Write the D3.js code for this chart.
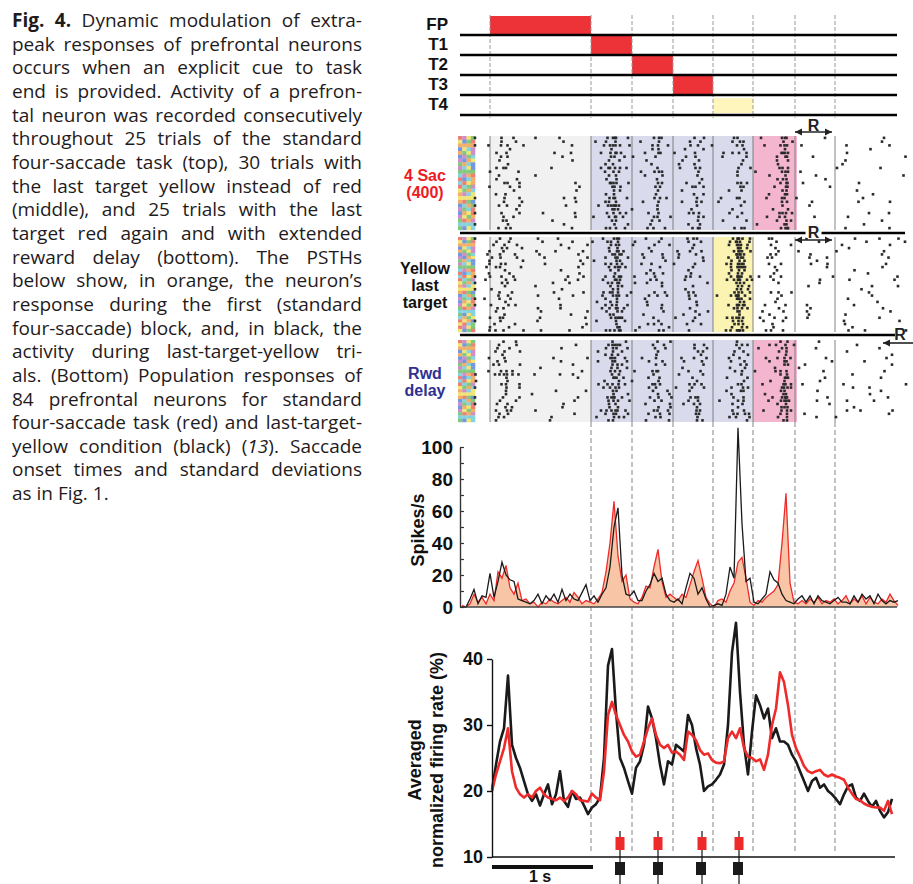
<!doctype html>
<html lang="en">
  <head>
    <meta charset="UTF-8" />
    <title>Fig. 4</title>
    <style>
      body {
        margin: 0;
        background: #fff;
      }
      #caption {
        position: absolute;
        left: 12px;
        top: 9px;
        width: 350px;
        font-family: "Open Sans", sans-serif;
        font-size: 19px;
        line-height: 23.65px;
        color: #1f1b1c;
      }
      #caption div {
        white-space: nowrap;
        text-align: justify;
        text-align-last: justify;
      }
      #caption div.last {
        text-align-last: left;
      }
      #chart {
        position: absolute;
        left: 0;
        top: 0;
      }
      #chart text {
        font-family: "Liberation Sans", Arial, sans-serif;
        font-weight: bold;
      }
    </style>
  </head>
  <body>
    <div id="caption"></div>
    <svg id="chart" width="913" height="884"></svg>
    <script src="https://d3js.org/d3.v7.min.js"></script>
    <script>
      /* global d3 */

      // ---- data ----
      const captionLines = [
        "<b>Fig. 4.</b> Dynamic modulation of extra-",
        "peak responses of prefrontal neurons",
        "occurs when an explicit cue to task",
        "end is provided. Activity of a prefron-",
        "tal neuron was recorded consecutively",
        "throughout 25 trials of the standard",
        "four-saccade task (top), 30 trials with",
        "the last target yellow instead of red",
        "(middle), and 25 trials with the last",
        "target red again and with extended",
        "reward delay (bottom). The PSTHs",
        "below show, in orange, the neuron’s",
        "response during the first (standard",
        "four-saccade) block, and, in black, the",
        "activity during last-target-yellow tri-",
        "als. (Bottom) Population responses of",
        "84 prefrontal neurons for standard",
        "four-saccade task (red) and last-target-",
        "yellow condition (black) (<i>13</i>). Saccade",
        "onset times and standard deviations",
        "as in Fig. 1.",
      ];

      // event times (s from fixation point onset)
      const events = [0, 1.01, 1.42, 1.83, 2.23, 2.63, 3.05, 3.45];
      const taskLabels = ["FP", "T1", "T2", "T3", "T4"];
      const taskOn = [0, 1.01, 1.42, 1.83, 2.23];
      const taskOff = [1.01, 1.42, 1.83, 2.23, 2.63];
      const taskColor = ["red", "red", "red", "red", "yellow"];
      const rewardWin = [3.05, 3.42];

      const blockLabels = [["4 Sac", "(400)"], ["Yellow", "last", "target"], ["Rwd", "delay"]];
      const blockTrials = [25, 30, 25];
      const blockShading = [
        [{ from: 0, to: 1.01, kind: "fix" }, { from: 1.01, to: 2.63, kind: "sac" }, { from: 2.63, to: 3.07, kind: "red" }],
        [{ from: 0, to: 1.01, kind: "fix" }, { from: 1.01, to: 2.23, kind: "sac" }, { from: 2.23, to: 2.63, kind: "yellow" }],
        [{ from: 0, to: 1.01, kind: "fix" }, { from: 1.01, to: 2.63, kind: "sac" }, { from: 2.63, to: 3.07, kind: "red" }],
      ];
      const blockSource = ["red", "black", "red"];

      // single neuron PSTH, 40 ms bins from -0.30 s
      const psthStart = -0.3;
      const psthStep = 0.04;
      const psthRed = [
        1, 0, 2, 8, 3, 6, 2, 8, 4, 22,
        18, 26, 12, 8, 15, 4, 5, 2, 3, 0,
        3, 2, 5, 3, 2, 4, 6, 3, 9, 6,
        2, 4, 3, 2, 5, 9, 22, 40, 66, 32,
        16, 20, 5, 3, 2, 6, 13, 12, 25, 36,
        16, 6, 8, 6, 4, 8, 6, 14, 22, 29,
        18, 6, 2, 0, 4, 5, 3, 10, 15, 28,
        31, 18, 3, 1, 4, 3, 6, 8, 10, 14,
        40, 71, 15, 3, 2, 4, 2, 5, 3, 6,
        2, 4, 3, 5, 2, 4, 7, 2, 5, 3,
        7, 2, 6, 3, 2, 5, 3, 8, 4, 1,
      ];
      const psthBlack = [
        0, 0, 5, 11, 2, 7, 6, 21, 6, 16,
        28, 20, 17, 16, 5, 4, 3, 2, 4, 8,
        2, 7, 4, 8, 3, 11, 4, 8, 5, 4,
        9, 14, 4, 7, 3, 8, 12, 25, 50, 62,
        20, 8, 7, 10, 4, 4, 10, 14, 21, 16,
        18, 8, 4, 3, 5, 2, 12, 21, 18, 8,
        12, 5, 0, 1, 2, 1, 8, 25, 18, 112,
        52, 16, 18, 3, 2, 5, 8, 22, 17, 15,
        8, 4, 3, 2, 5, 7, 3, 7, 2, 7,
        4, 3, 2, 4, 6, 3, 3, 2, 7, 3,
        8, 5, 7, 2, 8, 4, 2, 4, 3, 4,
      ];

      // population (84 neurons), 40 ms steps from 0.02 s
      const popStart = 0.02;
      const popStep = 0.04;
      const popBlack = [
        20.2, 24, 27.5, 29.5, 37.5, 27, 25, 23.5, 21.5, 19.5,
        18.5, 19.5, 17.8, 19.5, 21, 18, 19.5, 23, 18.5, 17.6,
        20, 18.8, 19, 17.8, 16.5, 17.5, 18, 19, 25, 39,
        41.5, 32, 25, 23.5, 21.5, 19.6, 23.5, 24.5, 27, 32.8,
        31, 28, 24, 21, 24.5, 24, 27, 26.5, 26, 31.5,
        30, 26.5, 24, 20, 20.7, 21, 21.7, 22.5, 24, 30,
        41, 45.5, 35, 27, 22.5, 29, 34.5, 33, 31, 32.5,
        28, 29.5, 27.5, 27.5, 27, 25.5, 24.5, 23, 21.5, 20,
        21.5, 22, 20.5, 21, 20, 19.5, 18.8, 18, 19.5, 20.7,
        21, 19, 18.5, 19.6, 18.5, 17.6, 18.5, 17, 16, 16.8, 18.8,
      ];
      const popRed = [
        20, 22.5, 24.5, 26.5, 29.5, 23, 20.5, 19.5, 19, 19.5,
        19, 20, 20.5, 19.5, 19, 18.8, 18.6, 19, 18.5, 19,
        20, 19.5, 18.6, 18.5, 18.4, 19.6, 19, 18.6, 23, 31.5,
        33.5, 31.5, 30, 28.5, 27.5, 26, 25.2, 25.5, 27.5, 29.5,
        31, 28.5, 27, 26.5, 27, 25.8, 26, 25.5, 24.7, 29,
        28.5, 27.7, 26.2, 25.5, 25.7, 24.7, 24.3, 24.2, 24.5, 28,
        29, 28, 29.5, 26.5, 25.2, 25, 24.5, 24.8, 23.2, 25.5,
        30, 32.5, 38, 36.5, 33, 28.5, 26.5, 25.2, 23.8, 23,
        22.7, 23, 23.2, 22.5, 22.2, 22.5, 22.2, 22, 21.7, 20.5,
        19.6, 18.8, 18.6, 18.1, 17.8, 17.6, 17.5, 17.5, 17, 18.5, 16.5,
      ];

      // mean saccade onset times
      const saccRed = [1.3, 1.68, 2.12, 2.49];
      const saccBlack = [1.3, 1.68, 2.11, 2.48];

      const psthTicks = [0, 10, 20, 30, 40, 50, 60, 70, 80, 90, 100];
      const popTicks = [10, 20, 30, 40];

      // ---- caption ----
      d3.select("#caption")
        .selectAll("div")
        .data(captionLines)
        .join("div")
        .attr("class", (d, i) => (i === captionLines.length - 1 ? "last" : null))
        .html((d) => d);

      // ---- chart ----
      const svg = d3.select("#chart");
      const x = d3.scaleLinear().domain([0, 4.07]).range([490, 897]);

      const fills = { red: "#ee3338", yellow: "#fff6bd" };
      const shadeFills = { fix: "#f1f1f1", sac: "#dadaed", red: "#f4b6cf", yellow: "#faf3b2" };

      function arrow(g, x1, x2, y, heads) {
        g.append("line")
          .attr("x1", x1).attr("x2", x2).attr("y1", y).attr("y2", y)
          .attr("stroke", "#222").attr("stroke-width", 1.6);
        heads.forEach((hx) => {
          const dir = hx === x1 ? 1 : -1;
          g.append("path")
            .attr("d", `M${hx},${y}L${hx + dir * 7},${y - 3.5}L${hx + dir * 7},${y + 3.5}Z`)
            .attr("fill", "#222");
        });
      }

      // task diagram
      const rowY = d3.scaleLinear().domain([0, 4]).range([35, 115]);
      const task = svg.append("g");
      task.selectAll("rect.bar")
        .data(taskLabels)
        .join("rect")
        .attr("x", (d, i) => x(taskOn[i]))
        .attr("width", (d, i) => x(taskOff[i]) - x(taskOn[i]))
        .attr("y", (d, i) => (taskColor[i] === "yellow" ? rowY(i) - 17 : rowY(i) - 19))
        .attr("height", (d, i) => (taskColor[i] === "yellow" ? 15 : 19))
        .attr("fill", (d, i) => fills[taskColor[i]]);
      task.selectAll("line.ev")
        .data(events)
        .join("line")
        .attr("x1", (d) => x(d)).attr("x2", (d) => x(d))
        .attr("y1", 15).attr("y2", 118)
        .attr("stroke", "#9a9a9a").attr("stroke-width", 1)
        .attr("stroke-dasharray", "4,2");
      task.selectAll("line.row")
        .data(taskLabels)
        .join("line")
        .attr("x1", 460).attr("x2", 897)
        .attr("y1", (d, i) => rowY(i)).attr("y2", (d, i) => rowY(i))
        .attr("stroke", "#000").attr("stroke-width", 2.6);
      task.selectAll("text")
        .data(taskLabels)
        .join("text")
        .attr("x", 448)
        .attr("y", (d, i) => rowY(i) - 5)
        .attr("text-anchor", "end")
        .attr("font-size", 17)
        .attr("fill", "#111")
        .text((d) => d);

      // reward marker above rasters
      const rg = svg.append("g");
      rg.append("text").attr("x", x(d3.mean(rewardWin))).attr("y", 131)
        .attr("text-anchor", "middle").attr("font-size", 16).attr("fill", "#222").text("R");
      arrow(rg, x(rewardWin[0]), x(rewardWin[1]), 132, [x(rewardWin[0]), x(rewardWin[1])]);

      // rasters
      const blockTop = [136, 237, 340];
      const blockBottom = [230, 332, 422];
      const labelColor = ["#ed1c24", "#111", "#2e3192"];
      const stripColors = ["#e96a5c", "#6cbf6a", "#5b86dc", "#f0e05a", "#6fcbd9", "#c979bf", "#f2a04e"];
      const rasterT0 = -0.15;
      const rasterT1 = 4.17;

      function rateAt(series, t) {
        const i = Math.max(0, Math.min(series.length - 1, Math.floor((t - psthStart) / psthStep)));
        return series[i];
      }

      // spike times per trial, laid out from the block's PSTH by integrate-and-fire
      // with thresholds taken from a Weyl sequence so trials don't line up
      function spikeTrain(series, k, b) {
        const frac = (v) => v - Math.floor(v);
        let acc = frac((k + 1) * 0.6180339887 + b * 0.31);
        const gain = 0.24 + 0.4 * frac((k + 1) * 0.7548776662 + b * 0.17);
        const out = [];
        let j = 0;
        const thrAt = (jj) => 0.3 + 1.6 * frac(k * 0.5698402909 + jj * 0.7548776662 + k * jj * 0.1234567 + b * 0.2);
        let thr = thrAt(0);
        for (let t = rasterT0; t < rasterT1; t += 0.005) {
          acc += rateAt(series, t) * 0.005 * gain;
          if (acc >= thr) {
            out.push(t);
            acc -= thr;
            j += 1;
            thr = thrAt(j);
          }
        }
        return out;
      }

      blockTrials.forEach((n, b) => {
        const g = svg.append("g");
        const y = d3.scaleBand().domain(d3.range(n)).range([blockTop[b], blockBottom[b]]);
        g.selectAll("rect.shade")
          .data(blockShading[b])
          .join("rect")
          .attr("x", (d) => x(d.from))
          .attr("width", (d) => x(d.to) - x(d.from))
          .attr("y", blockTop[b])
          .attr("height", blockBottom[b] - blockTop[b])
          .attr("fill", (d) => shadeFills[d.kind]);
        // trial condition strip
        const cols = [0, 1, 2, 3];
        d3.range(n).forEach((k) => {
          g.selectAll(null)
            .data(cols)
            .join("rect")
            .attr("x", (c) => 458 + c * 4.3)
            .attr("width", 4.4)
            .attr("y", y(k))
            .attr("height", y.bandwidth() + 0.2)
            .attr("fill", (c) => stripColors[(k * 3 + c * 5 + (k >> 2) + c * k) % stripColors.length])
            .attr("opacity", 0.85);
        });
        g.selectAll("line.ev")
          .data(events)
          .join("line")
          .attr("x1", (d) => x(d)).attr("x2", (d) => x(d))
          .attr("y1", blockTop[b]).attr("y2", blockBottom[b])
          .attr("stroke", "#777").attr("stroke-width", 0.9);
        const series = blockSource[b] === "red" ? psthRed : psthBlack;
        const spikes = [];
        d3.range(n).forEach((k) => spikeTrain(series, k, b).forEach((t) => spikes.push({ k, t })));
        g.selectAll("rect.spk")
          .data(spikes)
          .join("rect")
          .attr("x", (d) => x(d.t) - 1.3)
          .attr("y", (d) => y(d.k) + y.bandwidth() / 2 - 1.3)
          .attr("width", 2.6)
          .attr("height", 2.6)
          .attr("fill", "#2a2a2a");
        const lines = blockLabels[b];
        const midY = (blockTop[b] + blockBottom[b]) / 2;
        g.selectAll("text")
          .data(lines)
          .join("text")
          .attr("x", 425)
          .attr("y", (d, i) => midY + (i - (lines.length - 1) / 2) * 17 + 6)
          .attr("text-anchor", "middle")
          .attr("font-size", 16)
          .attr("fill", labelColor[b])
          .text((d) => d);
      });

      // separators with reward markers
      const sep = svg.append("g");
      sep.append("line").attr("x1", 460).attr("x2", 905).attr("y1", 233).attr("y2", 233)
        .attr("stroke", "#000").attr("stroke-width", 2.6);
      sep.append("rect").attr("x", x(d3.mean(rewardWin)) - 8).attr("y", 226).attr("width", 16).attr("height", 12).attr("fill", "#fff");
      sep.append("text").attr("x", x(d3.mean(rewardWin))).attr("y", 238)
        .attr("text-anchor", "middle").attr("font-size", 16).attr("fill", "#222").text("R");
      arrow(sep, x(rewardWin[0]), x(rewardWin[1]), 240, [x(rewardWin[0]), x(rewardWin[1])]);
      sep.append("line").attr("x1", 460).attr("x2", 895).attr("y1", 335).attr("y2", 335)
        .attr("stroke", "#000").attr("stroke-width", 2.6);
      sep.append("text").attr("x", 900).attr("y", 340)
        .attr("text-anchor", "middle").attr("font-size", 16).attr("fill", "#222").text("R");
      arrow(sep, 883, 915, 343, [883]);

      // event lines through the lower panels
      svg.append("g")
        .selectAll("line")
        .data(events.slice(1))
        .join("line")
        .attr("x1", (d) => x(d)).attr("x2", (d) => x(d))
        .attr("y1", 422).attr("y2", 852)
        .attr("stroke", "#9a9a9a").attr("stroke-width", 1.2)
        .attr("stroke-dasharray", "5,3");

      // PSTH
      const yP = d3.scaleLinear().domain([0, 100]).range([607, 447]);
      const psthT = psthRed.map((d, i) => psthStart + 0.02 + i * psthStep);
      const xP = d3.scaleLinear().domain([psthStart, psthStart + psthStep * psthRed.length]).range([460, 460 + 4 * psthRed.length]);
      const pg = svg.append("g");
      pg.append("path")
        .datum(psthRed)
        .attr("fill", "#f8c6a6")
        .attr("d", d3.area().x((d, i) => xP(psthT[i])).y0(yP(0)).y1((d) => yP(d)));
      pg.append("path")
        .datum(psthRed)
        .attr("fill", "none").attr("stroke", "#ee2a2a").attr("stroke-width", 1.3)
        .attr("d", d3.line().x((d, i) => xP(psthT[i])).y((d) => yP(d)));
      pg.append("path")
        .datum(psthBlack)
        .attr("fill", "none").attr("stroke", "#1a1a1a").attr("stroke-width", 1.3)
        .attr("d", d3.line().x((d, i) => xP(psthT[i])).y((d) => yP(d)));
      pg.append("line").attr("x1", 460).attr("x2", 897).attr("y1", yP(0)).attr("y2", yP(0))
        .attr("stroke", "#444").attr("stroke-width", 1.6);
      const axP = pg.append("g")
        .attr("transform", "translate(460,0)")
        .call(d3.axisLeft(yP).tickValues(psthTicks).tickSize(-4).tickSizeOuter(0).tickPadding(7)
          .tickFormat((d) => (d % 20 === 0 ? d : "")));
      axP.select(".domain").attr("stroke", "#333").attr("stroke-width", 1.4);
      axP.selectAll(".tick line").attr("stroke", "#333").attr("stroke-width", 1.2);
      axP.selectAll("text").attr("font-size", 19).attr("fill", "#111")
        .attr("font-family", "'Liberation Sans', Arial, sans-serif").attr("font-weight", "bold");
      pg.append("text")
        .attr("transform", "translate(424,530) rotate(-90)")
        .attr("text-anchor", "middle")
        .attr("font-size", 18)
        .attr("fill", "#111")
        .text("Spikes/s");

      // population
      const yQ = d3.scaleLinear().domain([10, 40]).range([857, 659]);
      const qg = svg.append("g");
      const popLine = d3.line().x((d, i) => x(popStart + i * popStep)).y((d) => yQ(d));
      qg.append("path").datum(popBlack)
        .attr("fill", "none").attr("stroke", "#1a1a1a").attr("stroke-width", 2.6)
        .attr("stroke-linejoin", "round").attr("d", popLine);
      qg.append("path").datum(popRed)
        .attr("fill", "none").attr("stroke", "#ee2a2a").attr("stroke-width", 2.6)
        .attr("stroke-linejoin", "round").attr("d", popLine);
      qg.append("line").attr("x1", 492).attr("x2", 895).attr("y1", yQ(10)).attr("y2", yQ(10))
        .attr("stroke", "#111").attr("stroke-width", 1.6);
      const axQ = qg.append("g")
        .attr("transform", "translate(492,0)")
        .call(d3.axisLeft(yQ).tickValues(popTicks).tickSize(5).tickSizeOuter(0).tickPadding(4));
      axQ.select(".domain").attr("stroke", "#111").attr("stroke-width", 1.4);
      axQ.selectAll(".tick line").attr("stroke", "#111").attr("stroke-width", 1.4);
      axQ.selectAll("text").attr("font-size", 18).attr("fill", "#111")
        .attr("font-family", "'Liberation Sans', Arial, sans-serif").attr("font-weight", "bold");
      qg.append("text")
        .attr("transform", "translate(421,760) rotate(-90)")
        .attr("text-anchor", "middle").attr("font-size", 18).attr("fill", "#111")
        .text("Averaged");
      qg.append("text")
        .attr("transform", "translate(443,760) rotate(-90)")
        .attr("text-anchor", "middle").attr("font-size", 18).attr("fill", "#111")
        .text("normalized firing rate (%)");

      // saccade onset markers
      const sg = svg.append("g");
      sg.selectAll("line")
        .data(saccRed)
        .join("line")
        .attr("x1", (d) => x(d)).attr("x2", (d) => x(d))
        .attr("y1", 831).attr("y2", 884)
        .attr("stroke", "#111").attr("stroke-width", 1.2);
      sg.selectAll("rect.r")
        .data(saccRed)
        .join("rect")
        .attr("x", (d) => x(d) - 4.5).attr("y", 837).attr("width", 9).attr("height", 13)
        .attr("fill", "#ee2a2a");
      sg.selectAll(null)
        .data(saccBlack)
        .join("rect")
        .attr("x", (d) => x(d) - 5).attr("y", 862).attr("width", 10).attr("height", 13)
        .attr("fill", "#1a1a1a");

      // 1 s scale bar
      svg.append("line").attr("x1", x(0.02)).attr("x2", x(1.03)).attr("y1", 867).attr("y2", 867)
        .attr("stroke", "#111").attr("stroke-width", 4);
      svg.append("text").attr("x", x(0.5)).attr("y", 882)
        .attr("text-anchor", "middle").attr("font-size", 16).attr("fill", "#111").text("1 s");
    </script>
  </body>
</html>
